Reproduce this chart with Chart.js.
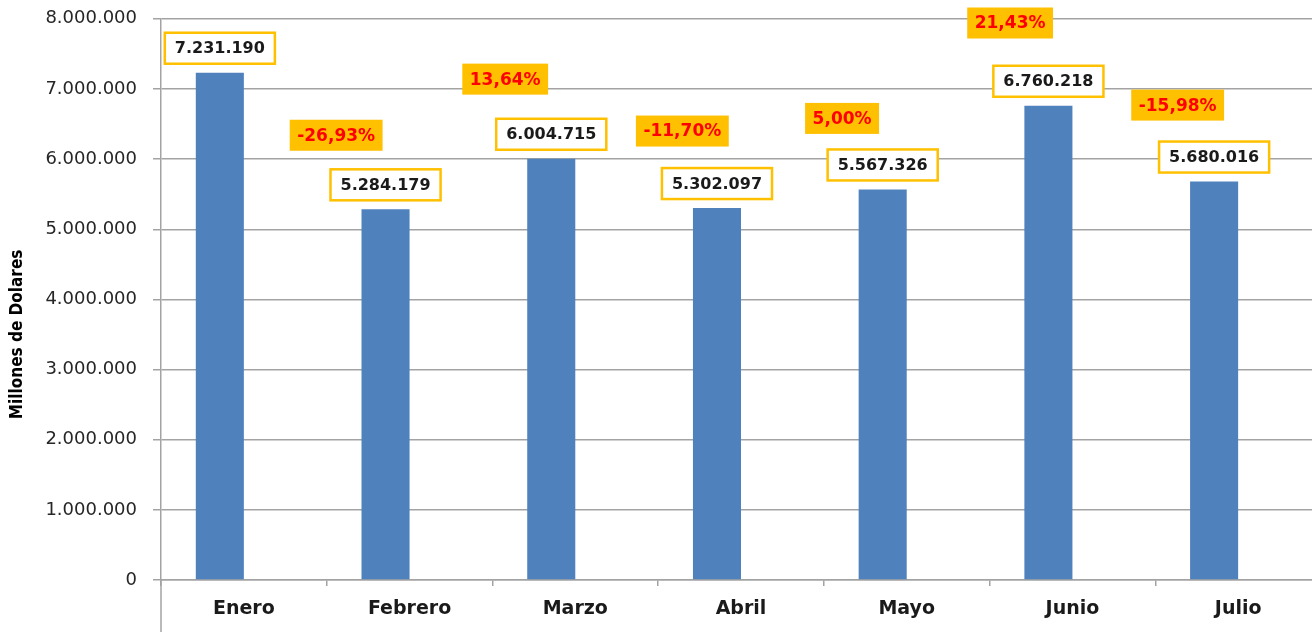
<!DOCTYPE html>
<html>
<head>
<meta charset="utf-8">
<script src="https://cdn.jsdelivr.net/npm/chart.js@4"></script>
<style>
    html, body { margin: 0; padding: 0; overflow: hidden; background: #fff; }
    #wrap { width: 1321px; height: 640px; margin-top: -8px; }
</style>
</head>
<body>
<div id="wrap"><canvas id="exportChart"></canvas></div>
<script>
// Exportaciones mensuales (millones de dólares) y variación mensual
const months = ['Enero', 'Febrero', 'Marzo', 'Abril', 'Mayo', 'Junio', 'Julio'];
const monthValues = [7231190, 5284179, 6004715, 5302097, 5567326, 6760218, 5680016];
const changePct = [null, -26.93, 13.64, -11.70, 5.00, 21.43, -15.98];
const yMax = 8000000;
const yStep = 1000000;

// where each % label sits, in axis units [category, value]
const pctLabelAt = [null, [0.557, 6340000], [1.577, 7140000], [2.646, 6400000],
    [3.610, 6580000], [4.624, 7940000], [5.635, 6770000]];

const GRID = '#a3a3a3';
const ORANGE = '#FFC000';

const fmtNum = n => String(n).replace(/\B(?=(\d{3})+(?!\d))/g, '.');
const fmtPct = p => p.toFixed(2).replace('.', ',') + '%';

const labelBoxes = {
    id: 'labelBoxes',
    afterDraw: function (chart) {
        const ctx = chart.ctx;
        const { x, y } = chart.scales;
        const area = chart.chartArea;
        ctx.save();

        // y axis line keeps going below the category axis
        ctx.strokeStyle = GRID;
        ctx.lineWidth = 1.5;
        ctx.beginPath();
        ctx.moveTo(area.left, area.bottom);
        ctx.lineTo(area.left, chart.height);
        ctx.stroke();

        // value boxes above bars
        ctx.font = 'bold 16px "DejaVu Sans"';
        ctx.textAlign = 'center';
        ctx.textBaseline = 'middle';
        chart.getDatasetMeta(0).data.forEach((bar, i) => {
            const txt = fmtNum(monthValues[i]);
            const w = ctx.measureText(txt).width + 20;
            const h = 31;
            const bx = bar.x - w / 2;
            const by = bar.y - 9 - h;
            ctx.fillStyle = '#fff';
            ctx.fillRect(bx, by, w, h);
            ctx.strokeStyle = ORANGE;
            ctx.lineWidth = 2.5;
            ctx.strokeRect(bx, by, w, h);
            ctx.fillStyle = '#1a1a1a';
            ctx.fillText(txt, bar.x, by + h / 2 + 1);
        });

        // percentage change boxes
        ctx.font = 'bold 17px "DejaVu Sans"';
        changePct.forEach((p, i) => {
            if (p === null) return;
            const cx = x.getPixelForValue(pctLabelAt[i][0]);
            const cy = y.getPixelForValue(pctLabelAt[i][1]);
            const txt = fmtPct(p);
            const w = ctx.measureText(txt).width + 15;
            const h = 31;
            ctx.fillStyle = ORANGE;
            ctx.fillRect(cx - w / 2, cy - h / 2, w, h);
            ctx.fillStyle = '#ff0000';
            ctx.fillText(txt, cx, cy + 1);
        });

        // axis title
        ctx.translate(18, (area.top + area.bottom) / 2 + 35);
        ctx.rotate(-Math.PI / 2);
        ctx.font = 'bold 17px "DejaVu Sans Condensed"';
        ctx.fillStyle = '#000';
        ctx.fillText('Millones de Dolares', 0, 0);
        ctx.restore();
    }
};

new Chart(document.getElementById('exportChart'), {
    type: 'bar',
    data: {
        labels: months,
        datasets: [{
            label: 'Exportaciones',
            data: monthValues,
            backgroundColor: '#4F81BD',
            borderWidth: 0,
            categoryPercentage: 0.58,
            barPercentage: 1
        }, {
            label: 'Variación',
            data: changePct,
            backgroundColor: 'rgba(0,0,0,0)',
            borderWidth: 0,
            categoryPercentage: 0.58,
            barPercentage: 1
        }]
    },
    options: {
        responsive: true,
        maintainAspectRatio: false,
        animation: false,
        layout: { padding: { top: 12, right: 0, bottom: 0, left: 0 } },
        plugins: { legend: { display: false }, tooltip: { enabled: false } },
        scales: {
            x: {
                afterFit: s => { s.height = 52; },
                grid: { offset: true, drawOnChartArea: false, drawTicks: true, tickLength: 6, color: GRID, lineWidth: 1.5 },
                border: { color: GRID, width: 1.5 },
                ticks: { color: '#1a1a1a', padding: 12, font: { family: 'DejaVu Sans', size: 19, weight: 'bold' } }
            },
            y: {
                min: 0,
                max: yMax,
                afterFit: s => { s.width = 161; },
                grid: { color: GRID, lineWidth: 1.5, tickLength: 8 },
                border: { color: GRID, width: 1.5 },
                ticks: {
                    stepSize: yStep,
                    padding: 16,
                    color: '#262626',
                    font: { family: 'DejaVu Sans', size: 18 },
                    callback: v => fmtNum(v)
                }
            }
        }
    },
    plugins: [labelBoxes]
});
</script>
</body>
</html>
